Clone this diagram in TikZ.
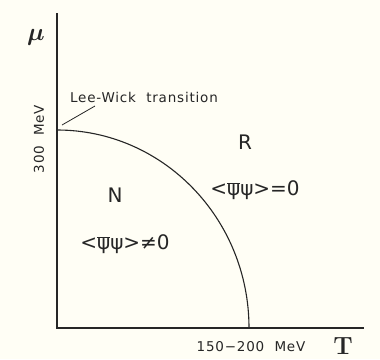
\documentclass[tikz,border=0pt]{standalone}
\usepackage{fontspec}
\setmainfont{DejaVu Sans}
\newcommand{\psibar}{$\overline{\hbox{ψ}}$}
\begin{document}
\begin{tikzpicture}[x=1pt,y=-1pt,
  axis/.style={line width=1.3pt, black!85},
  curve/.style={line width=1.1pt, black!85},
  lbl/.style={inner sep=0pt, text=black!85},
  small/.style={lbl, font=\fontsize{13.5}{13.5}\selectfont\addfontfeature{LetterSpace=6}},
  big/.style={lbl, font=\fontsize{20}{20}\selectfont}]
\fill[white!96!yellow] (0,0) rectangle (380,359);
\useasboundingbox (0,0) rectangle (380,359);
\coordinate (top) at (57,13);
\coordinate (origin) at (57,328);
\coordinate (right) at (364,328);
\coordinate (mu0) at (57,130);
\draw[axis] (top) -- (origin) -- (right);
\draw[curve] (mu0) arc[start angle=-90, end angle=0, x radius=192, y radius=198];
\node[small] (lw) at (144,97) {Lee-Wick\ \ transition};
\coordinate (lwstart) at (62,125);
\coordinate (lwend) at (95,106);
\draw[line width=0.8pt, black!85] (lwstart) -- (lwend);
\node[lbl, font=\fontsize{24}{24}\selectfont\boldmath] (mu) at (36,37) {$\mu$};
\node[lbl, font=\fontsize{24}{24}\selectfont\boldmath] (T) at (343,346) {$\mathbf{T}$};
\node[small, rotate=90] (mev) at (39,139) {300\ \ MeV};
\node[small] (tc) at (251,347) {150−200\ \ MeV};
\node[big] (N) at (115,195) {N};
\node[big] (R) at (245,142) {R};
\node[big] (ne) at (125,244) {<\psibar ψ>≠0};
\node[big] (eq) at (255,190) {<\psibar ψ>=0};
\end{tikzpicture}
\end{document}
